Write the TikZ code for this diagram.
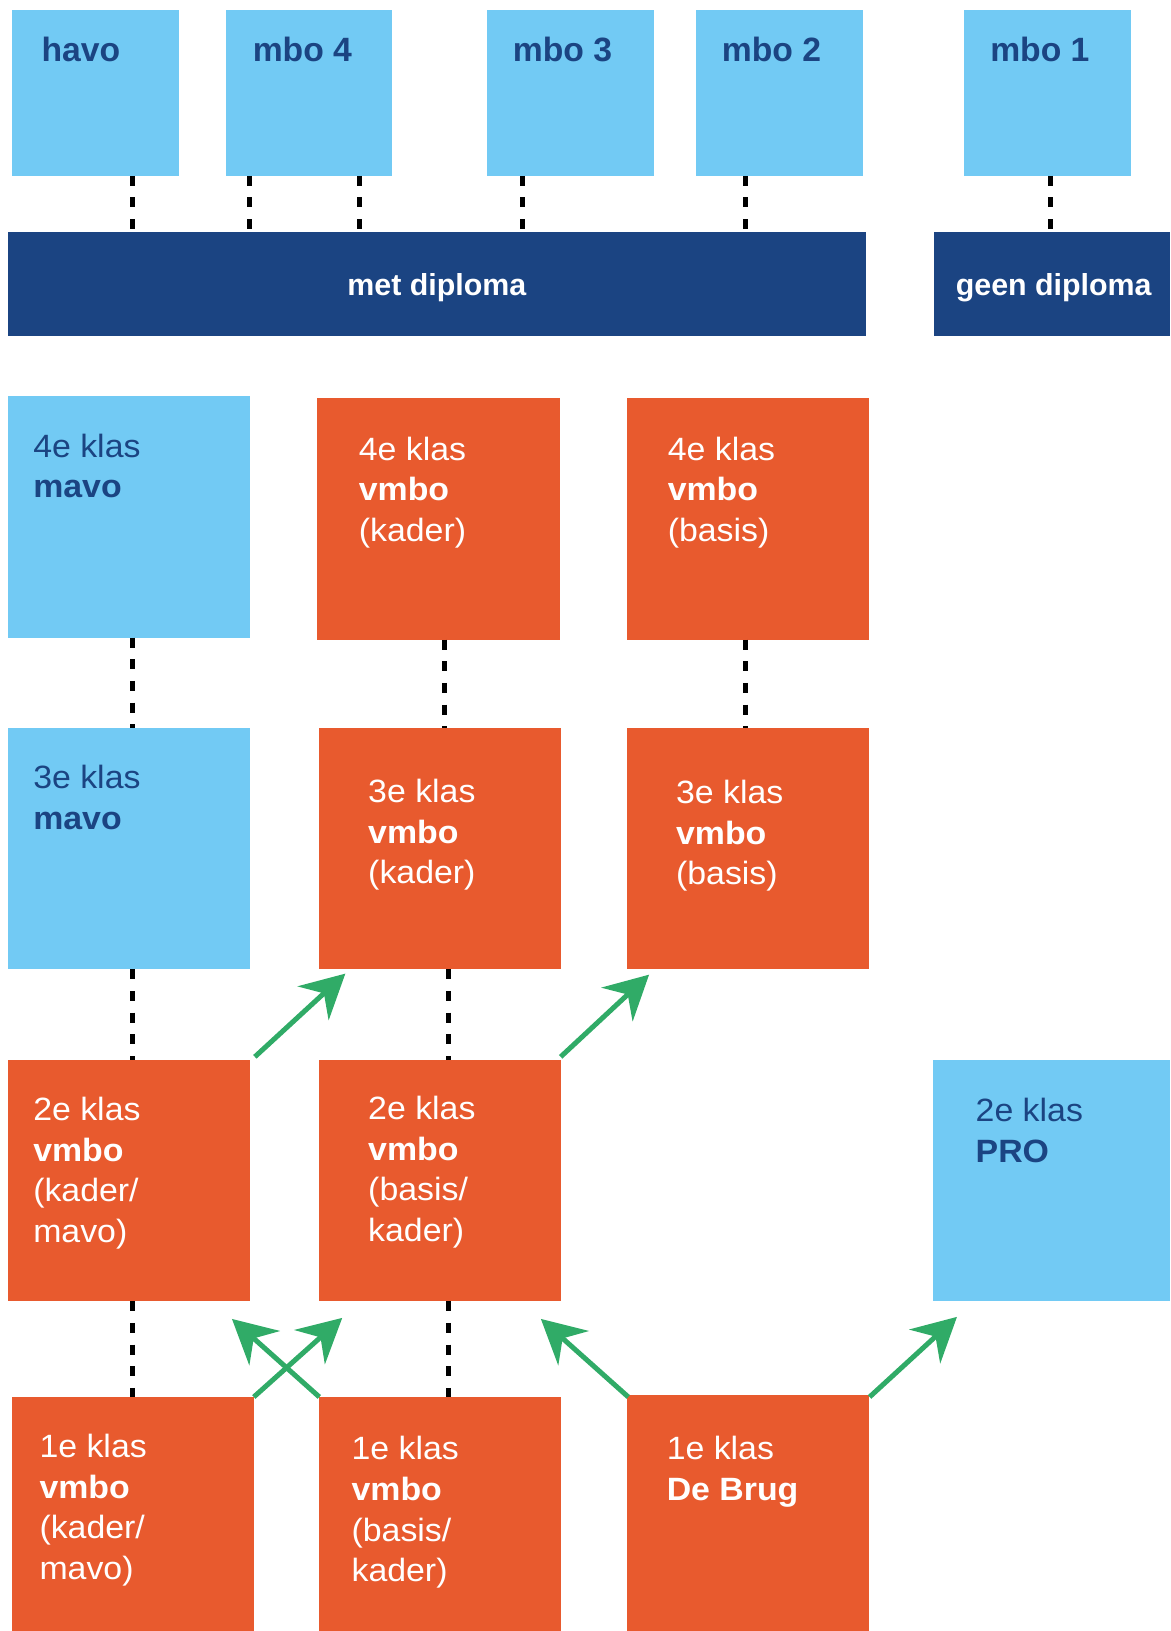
\documentclass[tikz,border=0pt]{standalone}
\usepackage{fontspec}
\setmainfont{Liberation Sans}
\newfontfamily\bodyfont[FakeStretch=1.05]{Liberation Sans}
\usetikzlibrary{fit,calc,arrows.meta}
\definecolor{lblue}{HTML}{72CAF4}
\definecolor{dblue}{HTML}{1B4482}
\definecolor{orng}{HTML}{E85A2E}
\definecolor{grn}{HTML}{30AB67}
\begin{document}
\begin{tikzpicture}[x=0.5pt,y=-0.5pt,
  lbbox/.style={fill=lblue,draw=none,inner sep=0pt,outer sep=0pt},
  orbox/.style={fill=orng,draw=none,inner sep=0pt,outer sep=0pt},
  barbox/.style={fill=dblue,draw=none,inner sep=0pt,outer sep=0pt},
  tb/.style={anchor=north west,inner sep=0pt,outer sep=0pt,align=left,text=dblue,font=\bodyfont\fontsize{15.5}{19.5}\selectfont},
  tw/.style={tb,text=white},
  toplbl/.style={anchor=north west,inner sep=0pt,outer sep=0pt,text=dblue,font=\fontsize{16.2}{19}\selectfont\bfseries},
  barlbl/.style={anchor=base,inner sep=0pt,outer sep=0pt,text=white,font=\fontsize{14.6}{18}\selectfont\bfseries},
  dl/.style={line width=2.4pt,dash pattern=on 4.8pt off 5.6pt},
  ga/.style={draw=grn,line width=2.4pt,-{Stealth[length=21pt,width=22pt,inset=7pt]}}
]
\useasboundingbox (0,0) rectangle (1125,1568);

% top row
\node[lbbox,fit={(12,10)(172,169)}] (havo) {};
\node[lbbox,fit={(217,10)(377,169)}] (mbo4) {};
\node[lbbox,fit={(468,10)(629,169)}] (mbo3) {};
\node[lbbox,fit={(669,10)(830,169)}] (mbo2) {};
\node[lbbox,fit={(927,10)(1087,169)}] (mbo1) {};
\node[toplbl] (thavo) at (40,36) {havo};
\node[toplbl] (tmbo4) at (243,36) {mbo 4};
\node[toplbl] (tmbo3) at (493,36) {mbo 3};
\node[toplbl] (tmbo2) at (694,36) {mbo 2};
\node[toplbl] (tmbo1) at (952,36) {mbo 1};

% bars
\node[barbox,fit={(8,223)(833,323)}] (met) {};
\node[barbox,fit={(898,223)(1125,323)}] (geen) {};
\node[barlbl] (tmet) at (420,284) {met diploma};
\node[barlbl] (tgeen) at (1013,284) {geen diploma};

% coordinates for dashed connectors
\coordinate (c1) at (127.5,0);
\coordinate (c2) at (240,0);
\coordinate (c3) at (346,0);
\coordinate (c4) at (502,0);
\coordinate (c5) at (717,0);
\coordinate (c6) at (1009.5,0);
\coordinate (c7) at (427.5,0);
\coordinate (c8) at (431,0);

\draw[dl] (havo.south -| c1) -- (met.north -| c1);
\draw[dl] (mbo4.south -| c2) -- (met.north -| c2);
\draw[dl] (mbo4.south -| c3) -- (met.north -| c3);
\draw[dl] (mbo3.south -| c4) -- (met.north -| c4);
\draw[dl] (mbo2.south -| c5) -- (met.north -| c5);
\draw[dl] (mbo1.south -| c6) -- (geen.north -| c6);

% 4e klas
\node[lbbox,fit={(8,381)(240,613)}] (m4) {};
\node[orbox,fit={(305,383)(538,615)}] (k4) {};
\node[orbox,fit={(603,383)(835,615)}] (b4) {};
\node[tb] (tm4) at (32,417) {4e klas\\\textbf{mavo}};
\node[tw] (tk4) at (345,420) {4e klas\\\textbf{vmbo}\\(kader)};
\node[tw] (tb4) at (642,420) {4e klas\\\textbf{vmbo}\\(basis)};

% 3e klas
\node[lbbox,fit={(8,700)(240,932)}] (m3) {};
\node[orbox,fit={(307,700)(539,932)}] (k3) {};
\node[orbox,fit={(603,700)(835,932)}] (b3) {};
\node[tb] (tm3) at (32,736) {3e klas\\\textbf{mavo}};
\node[tw] (tk3) at (354,749) {3e klas\\\textbf{vmbo}\\(kader)};
\node[tw] (tb3) at (650,750) {3e klas\\\textbf{vmbo}\\(basis)};

\draw[dl] (m4.south -| c1) -- (m3.north -| c1);
\draw[dl] (k4.south -| c7) -- (k3.north -| c7);
\draw[dl] (b4.south -| c5) -- (b3.north -| c5);

% 2e klas
\node[orbox,fit={(8,1019)(240,1251)}] (k2) {};
\node[orbox,fit={(307,1019)(539,1251)}] (bk2) {};
\node[lbbox,fit={(897,1019)(1125,1251)}] (pro2) {};
\node[tw] (tk2) at (32,1055) {2e klas\\\textbf{vmbo}\\(kader/\\mavo)};
\node[tw] (tbk2) at (354,1054) {2e klas\\\textbf{vmbo}\\(basis/\\kader)};
\node[tb] (tpro2) at (938,1056) {2e klas\\\textbf{PRO}};

\draw[dl] (m3.south -| c1) -- (k2.north -| c1);
\draw[dl] (k3.south -| c8) -- (bk2.north -| c8);

% 1e klas
\node[orbox,fit={(12,1343)(244,1568)}] (k1) {};
\node[orbox,fit={(307,1343)(539,1568)}] (bk1) {};
\node[orbox,fit={(603,1341)(835,1568)}] (brug) {};
\node[tw] (tk1) at (38,1379) {1e klas\\\textbf{vmbo}\\(kader/\\mavo)};
\node[tw] (tbk1) at (338,1381) {1e klas\\\textbf{vmbo}\\(basis/\\kader)};
\node[tw] (tbrug) at (641,1381) {1e klas\\\textbf{De Brug}};

\draw[dl] (k2.south -| c1) -- (k1.north -| c1);
\draw[dl] (bk2.south -| c8) -- (bk1.north -| c8);

% green arrows
\draw[ga] ($(k2.north east)+(5,-3)$) -- ($(k3.south west)+(25,4)$);
\draw[ga] ($(bk2.north east)+(0,-3)$) -- ($(b3.south west)+(21,5)$);
\draw[ga] (k1.north east) -- ($(bk2.south west)+(22,16)$);
\draw[ga] (bk1.north west) -- ($(k2.south east)+(-17,17)$);
\draw[ga] ($(brug.north west)+(1,2)$) -- ($(bk2.south east)+(-19,17)$);
\draw[ga] ($(brug.north east)+(1,2)$) -- ($(pro2.south west)+(23,15)$);
\end{tikzpicture}
\end{document}
